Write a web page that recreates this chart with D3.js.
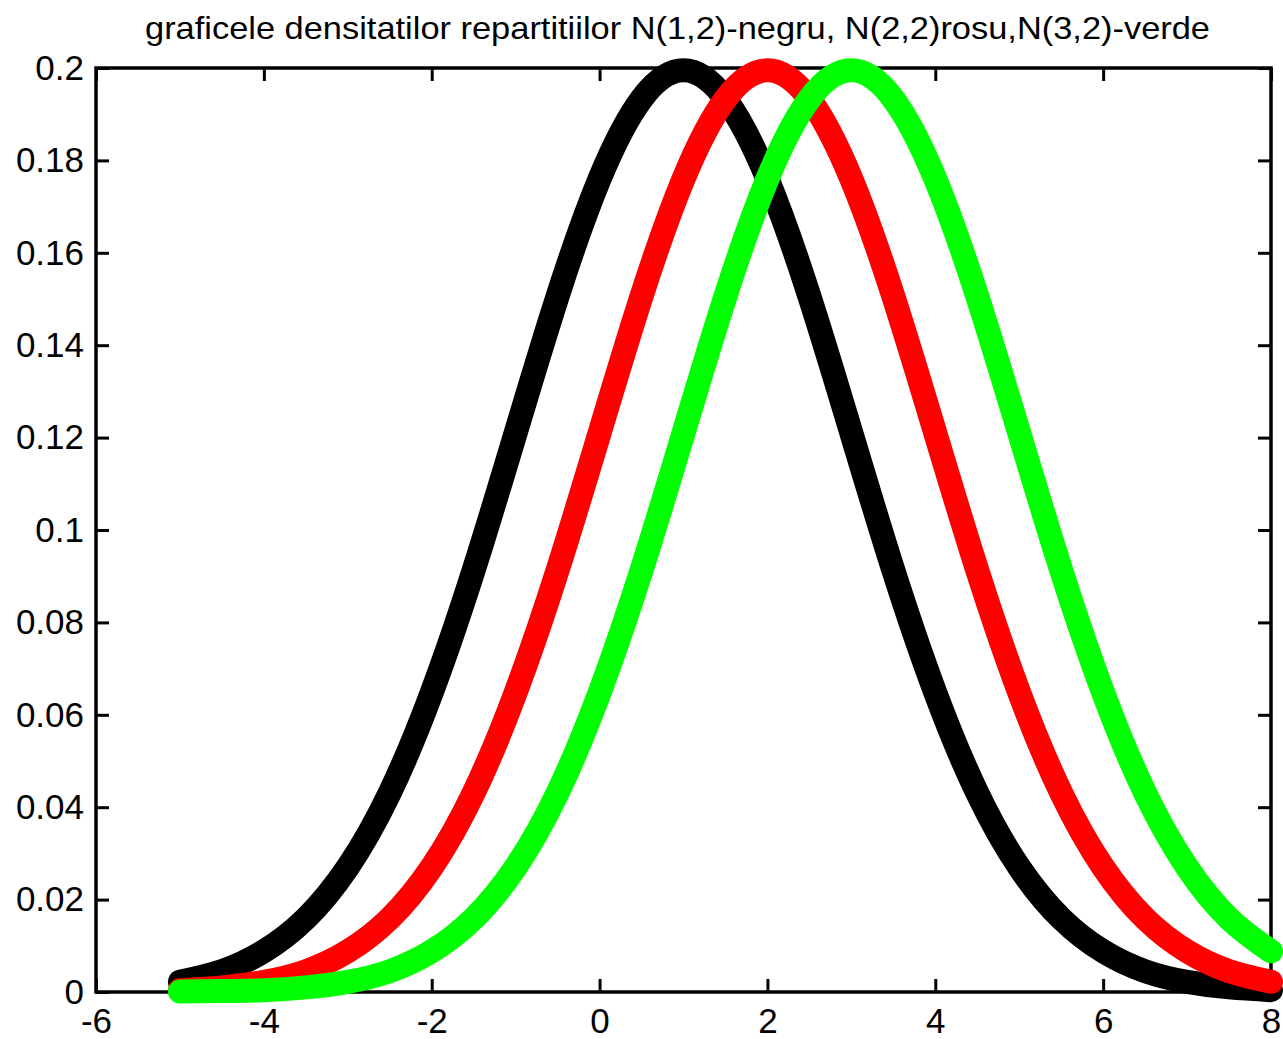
<!DOCTYPE html>
<html>
<head>
<meta charset="utf-8">
<script src="https://cdn.jsdelivr.net/npm/d3@7"></script>
<style>
  body { margin: 0; background: #fff; }
  text { font-family: "Liberation Sans", Arial, sans-serif; fill: #000; }
</style>
</head>
<body>
<div id="chart-area"></div>
<script>
const xs = [-5, -4.5, -4, -3.5, -3, -2.5, -2, -1.5, -1, -0.5, 0, 0.5, 1, 1.5, 2, 2.5, 3, 3.5, 4, 4.5, 5, 5.5, 6, 6.5, 7, 7.5, 8]

// N(1,2) - black
const blackVals = [.0022, .0045, .0088, .0159, .0270, .0431, .0648, .0913, .1210, .1506, .1760, .1933, .1995, .1933, .1760, .1506, .1210, .0913, .0648, .0431, .0270, .0159, .0088, .0045, .0022, .0010, .0004]
// N(2,2) - red
const redVals = [.0004, .0010, .0022, .0045, .0088, .0159, .0270, .0431, .0648, .0913, .1210, .1506, .1760, .1933, .1995, .1933, .1760, .1506, .1210, .0913, .0648, .0431, .0270, .0159, .0088, .0045, .0022]
// N(3,2) - green
const greenVals = [.0001, .0002, .0004, .0010, .0022, .0045, .0088, .0159, .0270, .0431, .0648, .0913, .1210, .1506, .1760, .1933, .1995, .1933, .1760, .1506, .1210, .0913, .0648, .0431, .0270, .0159, .0088]

const xTicks = [-6, -4, -2, 0, 2, 4, 6, 8]
const yTicks = [0, 0.02, 0.04, 0.06, 0.08, 0.1, 0.12, 0.14, 0.16, 0.18, 0.2]
const yTickLabels = ["0", "0.02", "0.04", "0.06", "0.08", "0.1", "0.12", "0.14", "0.16", "0.18", "0.2"]

const title = "graficele densitatilor repartitiilor N(1,2)-negru, N(2,2)rosu,N(3,2)-verde"

const WIDTH = 1283
const HEIGHT = 1039
const LEFT = 96, RIGHT = 1271, TOP = 68, BOTTOM = 992

const svg = d3.select("#chart-area")
    .append("svg")
    .attr("width", WIDTH)
    .attr("height", HEIGHT)

svg.append("rect")
    .attr("width", WIDTH)
    .attr("height", HEIGHT)
    .attr("fill", "#fff")

const x = d3.scaleLinear()
    .domain([-6, 8])
    .range([LEFT, RIGHT])

const y = d3.scaleLinear()
    .domain([0, 0.2])
    .range([BOTTOM, TOP])

// Title
svg.append("text")
    .attr("x", (LEFT + RIGHT) / 2 - 6)
    .attr("y", 39)
    .attr("font-size", "32px")
    .attr("text-anchor", "middle")
    .attr("textLength", 1065)
    .attr("lengthAdjust", "spacingAndGlyphs")
    .text(title)

// curves
const line = d3.line()
    .x(d => x(d[0]))
    .y(d => y(d[1]))
    .curve(d3.curveNatural)

const series = [
    { vals: blackVals, color: "#000000" },
    { vals: redVals, color: "#ff0000" },
    { vals: greenVals, color: "#00ff00" }
]

// axes (ticks pointing inward, MATLAB style)
const fmtX = d => String(d)
const fmtY = (d, i) => yTickLabels[i]

const xAxisCall = d3.axisBottom(x)
    .tickValues(xTicks)
    .tickSizeInner(-13)
    .tickSizeOuter(0)
    .tickPadding(16)
    .tickFormat(fmtX)
svg.append("g")
    .attr("class", "x axis")
    .attr("transform", `translate(0, ${BOTTOM})`)
    .call(xAxisCall)

const xTopCall = d3.axisTop(x)
    .tickValues(xTicks)
    .tickSizeInner(-13)
    .tickSizeOuter(0)
    .tickFormat("")
svg.append("g")
    .attr("transform", `translate(0, ${TOP})`)
    .call(xTopCall)

const yAxisCall = d3.axisLeft(y)
    .tickValues(yTicks)
    .tickSizeInner(-13)
    .tickSizeOuter(0)
    .tickPadding(12)
    .tickFormat(fmtY)
svg.append("g")
    .attr("class", "y axis")
    .attr("transform", `translate(${LEFT}, 0)`)
    .call(yAxisCall)

const yRightCall = d3.axisRight(y)
    .tickValues(yTicks)
    .tickSizeInner(-13)
    .tickSizeOuter(0)
    .tickFormat("")
svg.append("g")
    .attr("transform", `translate(${RIGHT}, 0)`)
    .call(yRightCall)

svg.selectAll(".domain").remove()
svg.selectAll(".tick line")
    .attr("stroke", "#000")
    .attr("stroke-width", 3)
svg.selectAll(".tick text")
    .attr("font-family", "Liberation Sans, Arial, sans-serif")
    .attr("font-size", "35px")
    .attr("fill", "#000")

// box
svg.append("rect")
    .attr("x", LEFT)
    .attr("y", TOP)
    .attr("width", RIGHT - LEFT)
    .attr("height", BOTTOM - TOP)
    .attr("fill", "none")
    .attr("stroke", "#000")
    .attr("stroke-width", 3.5)

svg.selectAll(".curve")
    .data(series)
    .enter().append("path")
    .attr("class", "curve")
    .attr("d", s => line(xs.map((v, i) => [v, s.vals[i]])))
    .attr("fill", "none")
    .attr("stroke", s => s.color)
    .attr("stroke-width", 24)
    .attr("stroke-linejoin", "round")
    .attr("stroke-linecap", "round")
</script>
</body>
</html>
